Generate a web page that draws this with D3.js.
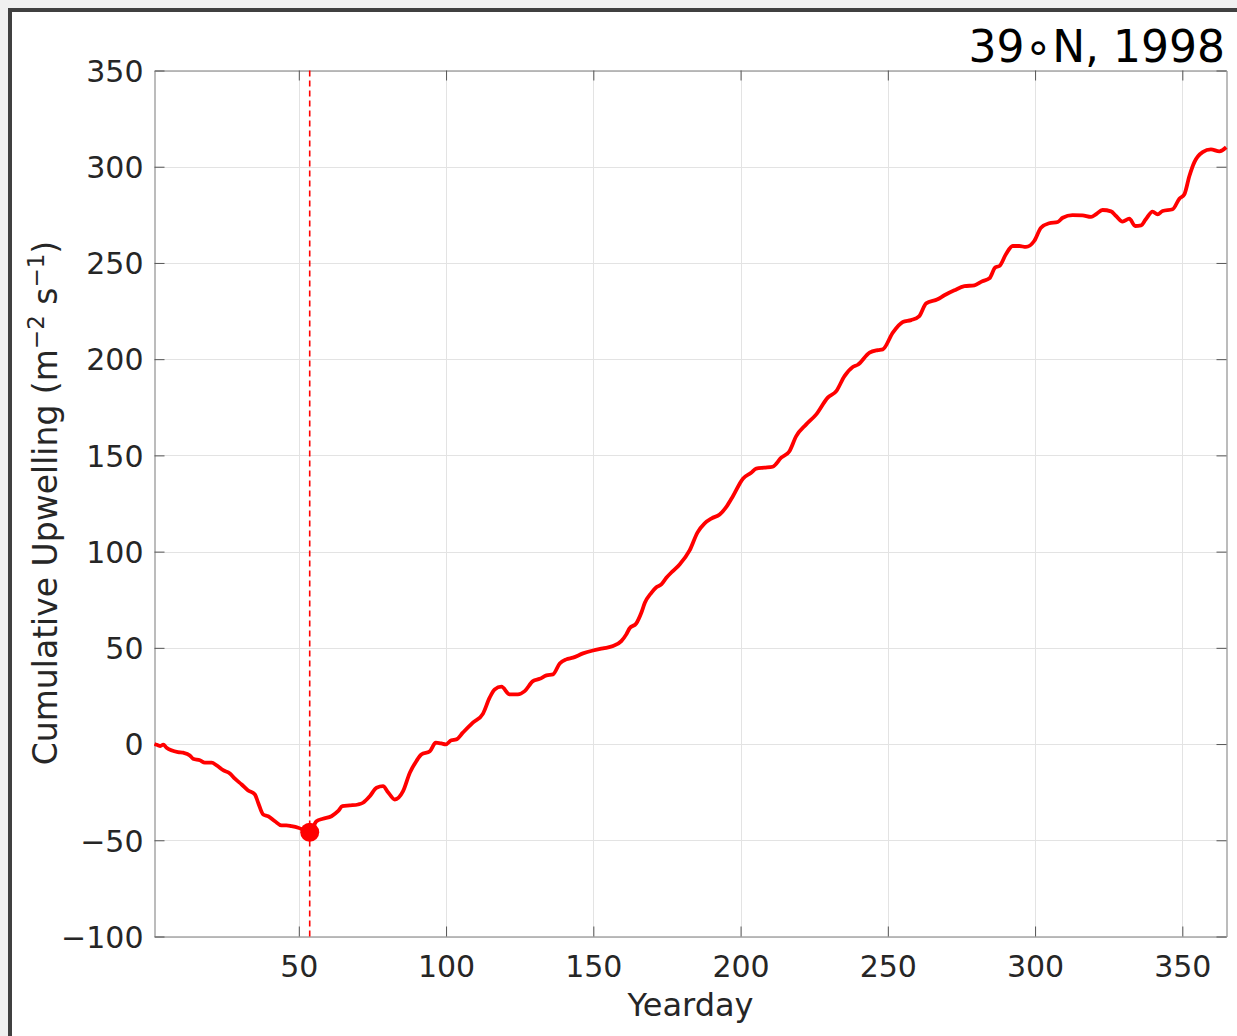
<!DOCTYPE html>
<html>
<head>
<meta charset="utf-8">
<script src="https://cdn.jsdelivr.net/npm/d3@7"></script>
<style>
  body { margin: 0; background: #f0f0f0; }
  svg text { font-family: 'DejaVu Sans', sans-serif; fill: #262626; }
</style>
</head>
<body>
<div id="chart"></div>
<script>
// yearday and cumulative upwelling
var days = [1, 2, 3, 4, 5.1, 9, 10.7, 13, 14.1, 16.4, 18.1, 20.4, 22.1, 24.3, 26.6, 28.3, 30.6, 32.8, 35.1, 36.2,
  37.9, 39.6, 41.9, 44.1, 45.8, 47.5, 49.8, 52, 53.7, 56, 58.2, 61.1, 63.3, 64.8, 67.3, 70.1, 71.8, 74.1, 76.4,
  78.6, 80.3, 82.6, 85.4, 87.7, 89.9, 91.6, 94.5, 96.5, 98.4, 99.9, 101.8, 103.5, 105.7, 109.1, 112.5, 114.8,
  116.5, 118.8, 121.6, 124.4, 126.7, 129.5, 131.8, 134.1, 136.3, 138.6, 140.8, 143.1, 146.5, 149.9, 153.3, 156.7,
  159.5, 161.2, 162.3, 164.6, 166.3, 167.5, 169.7, 171.4, 173.1, 174.8, 177, 179.3, 182.7, 185.4, 187.8, 190.2,
  192.9, 195.3, 197.4, 200.8, 203.6, 205.3, 208.1, 210.9, 213.8, 216.6, 218.9, 222.3, 225.7, 229.6, 232.5, 235.3,
  238.1, 239.8, 243.8, 246.6, 248.3, 251.7, 255.1, 257.9, 260.7, 263, 266.9, 269.2, 272.6, 276, 279.4, 282.1,
  284.5, 286.5, 287.9, 290.1, 292.4, 294.6, 296.9, 299.7, 302, 304.8, 307.7, 309.4, 312.7, 316.1, 319, 320.7,
  322.9, 325.8, 327.5, 329.7, 332, 334, 336, 337.6, 339.9, 341.6, 343.3, 346.7, 349, 350.7, 352.4, 354.1, 356.9,
  359.7, 362.6, 364.9];
var upwelling = [0, -0.5, -1, -0.3, -1.9, -4.2, -4.5, -5.9, -7.6, -8.4, -9.7, -9.7, -11.1, -13.6, -15.3, -18, -21,
  -24.1, -26.2, -30.5, -36.6, -37.5, -40.1, -42.3, -42.3, -42.7, -43.5, -44.8, -45.8, -40.1, -38.8, -37.5, -34.9,
  -32.3, -31.9, -31.4, -30.5, -27.1, -22.7, -21.9, -25, -28.8, -24.5, -14.9, -8.9, -5.4, -3.7, 0.7, 0.3, -0.2, 2,
  2.4, 5.9, 11.1, 15.7, 24.1, 28.4, 29.8, 25.8, 25.8, 27.5, 32.7, 33.9, 35.7, 36.2, 41.9, 44, 44.9, 47.1, 48.6,
  49.7, 50.9, 53.5, 57, 60.1, 62.7, 68.2, 73.4, 78.6, 81.5, 83, 86.4, 89.9, 93.3, 100.6, 110, 114.7, 117.3, 119.3,
  123.5, 128.8, 137.9, 141, 143.1, 143.6, 144.1, 148.8, 152.2, 160, 166.1, 171.3, 180, 183.4, 191.2, 195.9, 197.1,
  203.4, 204.7, 205.1, 213.8, 219.3, 220.3, 222.4, 229, 231.1, 233.2, 235.8, 237.9, 238.4, 240.5, 242, 247.7,
  248.4, 254.5, 258.8, 258.8, 258.3, 261.4, 268.3, 270.6, 271.3, 273.5, 274.9, 274.7, 273.9, 275.3, 277.5, 276.8,
  274.4, 271.5, 273, 269.2, 269.5, 272.7, 276.7, 275.3, 277, 277.9, 283.4, 285.7, 295.2, 302.4, 307.6, 309, 308,
  310.1];
// onset of upwelling season (minimum)
var onsetDay = 53.7;
var onsetValue = -45.8;

var xTicks = [50, 100, 150, 200, 250, 300, 350];
var yTicks = [-100, -50, 0, 50, 100, 150, 200, 250, 300, 350];
var title = "39\u2218N, 1998";

var width = 1237, height = 1036;
var margin = {left: 154.5, right: 1226.5, top: 70.5, bottom: 936.5};

var svg = d3.select("#chart").append("svg")
  .attr("width", width)
  .attr("height", height);

// figure frame
svg.append("rect")
  .attr("x", 10).attr("y", 10)
  .attr("width", 1260).attr("height", 1060)
  .attr("fill", "#fff")
  .attr("stroke", "#404040")
  .attr("stroke-width", 4);

var x = d3.scaleLinear().domain([1, 365]).range([margin.left, margin.right]);
var y = d3.scaleLinear().domain([-100, 350]).range([margin.bottom, margin.top]);

//grid
var g = svg.append("g");
g.selectAll(".gx").data(xTicks).enter().append("line")
  .attr("x1", function(d) { return Math.round(x(d)) + 0.5; })
  .attr("x2", function(d) { return Math.round(x(d)) + 0.5; })
  .attr("y1", margin.top).attr("y2", margin.bottom)
  .attr("stroke", "#e3e3e3").attr("stroke-width", 1);
g.selectAll(".gy").data(yTicks).enter().append("line")
  .attr("y1", function(d) { return Math.round(y(d)) + 0.5; })
  .attr("y2", function(d) { return Math.round(y(d)) + 0.5; })
  .attr("x1", margin.left).attr("x2", margin.right)
  .attr("stroke", "#e3e3e3").attr("stroke-width", 1);

//axes (MATLAB box with inward ticks)
var tickLen = 10;
var axisBottom = d3.axisBottom(x).tickValues(xTicks).tickSizeInner(-tickLen).tickSizeOuter(0).tickPadding(19);
var axisTop = d3.axisTop(x).tickValues(xTicks).tickSizeInner(-tickLen).tickSizeOuter(0).tickFormat("");
var axisLeft = d3.axisLeft(y).tickValues(yTicks).tickSizeInner(-tickLen).tickSizeOuter(0).tickPadding(11)
  .tickFormat(function(d) { return d < 0 ? "\u2212" + Math.abs(d) : d; });
var axisRight = d3.axisRight(y).tickValues(yTicks).tickSizeInner(-tickLen).tickSizeOuter(0).tickFormat("");

function styleAxis(sel) {
  sel.select(".domain").attr("stroke", "#a6a6a6").attr("stroke-width", 1.5);
  sel.selectAll(".tick line").attr("stroke", "#555").attr("stroke-width", 1);
  sel.selectAll("text").attr("font-size", 30).attr("fill", "#262626")
    .attr("font-family", "'DejaVu Sans', sans-serif");
}

svg.append("g").attr("transform", "translate(0," + margin.bottom + ")").call(axisBottom).call(styleAxis);
svg.append("g").attr("transform", "translate(0," + margin.top + ")").call(axisTop).call(styleAxis);
svg.append("g").attr("transform", "translate(" + margin.left + ",0)").call(axisLeft).call(styleAxis)
  .selectAll("text").attr("dy", "0.36em");
svg.append("g").attr("transform", "translate(" + margin.right + ",0)").call(axisRight).call(styleAxis);

//onset line
svg.append("line")
  .attr("x1", x(onsetDay)).attr("x2", x(onsetDay))
  .attr("y1", margin.top).attr("y2", margin.bottom)
  .attr("stroke", "#ff0000").attr("stroke-width", 1.6)
  .attr("stroke-dasharray", "6,4");

//curve
var line = d3.line()
  .x(function(d, i) { return x(days[i]); })
  .y(function(d) { return y(d); })
  .curve(d3.curveMonotoneX);

svg.append("path")
  .datum(upwelling)
  .attr("d", line)
  .attr("fill", "none")
  .attr("stroke", "#ff0000")
  .attr("stroke-width", 3.8)
  .attr("stroke-linejoin", "round");

svg.append("circle")
  .attr("cx", x(onsetDay)).attr("cy", y(onsetValue))
  .attr("r", 9.5).attr("fill", "#ff0000");

//labels
svg.append("text")
  .attr("x", 1225).attr("y", 62)
  .attr("text-anchor", "end")
  .attr("font-size", 44)
  .style("fill", "#000")
  .text(title);

svg.append("text")
  .attr("x", (margin.left + margin.right) / 2).attr("y", 1016)
  .attr("text-anchor", "middle")
  .attr("font-size", 32)
  .text("Yearday");

var ylab = svg.append("text")
  .attr("transform", "translate(57,503) rotate(-90)")
  .attr("text-anchor", "middle")
  .attr("font-size", 33);
ylab.append("tspan").text("Cumulative Upwelling (m");
ylab.append("tspan").attr("dy", -13).attr("font-size", 23).text("\u22122");
ylab.append("tspan").attr("dy", 13).text(" s");
ylab.append("tspan").attr("dy", -13).attr("font-size", 23).text("\u22121");
ylab.append("tspan").attr("dy", 13).text(")");
</script>
</body>
</html>
